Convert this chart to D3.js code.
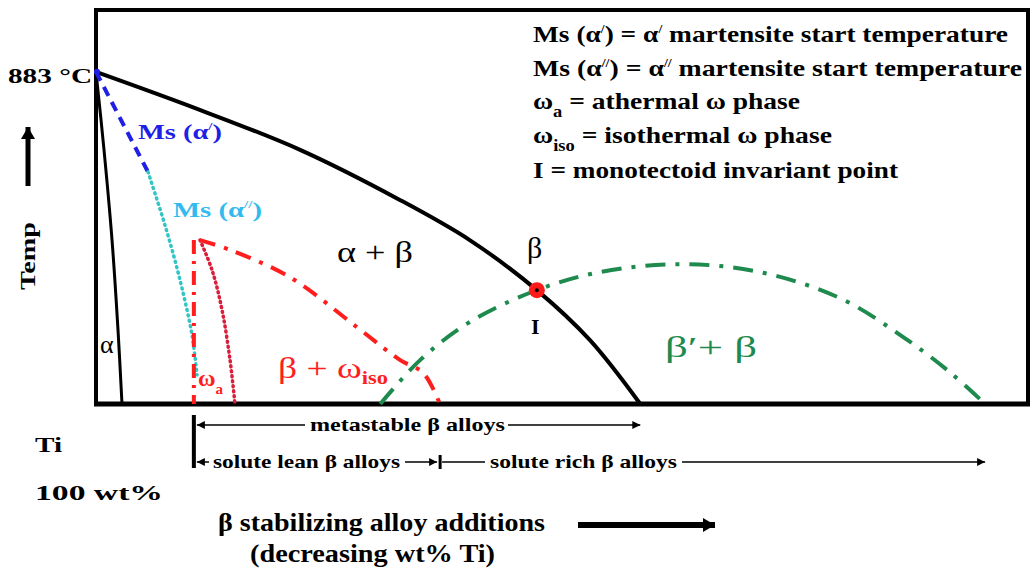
<!DOCTYPE html>
<html>
<head>
<meta charset="utf-8">
<script src="https://cdn.jsdelivr.net/npm/d3@7"></script>
<style>
body{margin:0;background:#fff;}
</style>
</head>
<body>
<svg id="svg" width="1032" height="570"></svg>
<script>
// composition (0..100, left = pure Ti) vs temperature (0..100, schematic)
var betaTransus = [[0,84.3],[11.2,74.6],[21.9,64.5],[32.6,51.8],[40.1,41.6],[47.3,28.9],[53,16.2],[58.4,0]];
var alphaLine = [[0,84.3],[0.86,64.5],[1.72,41.6],[2.36,18.8],[2.79,0]];
var msAlpha1 = [[0,84.3],[5.58,58.9]];
var msAlpha2 = [[5.58,58.9],[7.4,45.4],[9.01,31.5],[10.3,17.5],[10.84,7.4]];
var omegaAthermalLeft = [[10.5,41.6],[10.5,0]];
var omegaAthermalRight = [[11.16,41.6],[12.45,34],[13.52,23.9],[14.38,11.2],[14.91,0]];
var omegaIso = [[11.16,41.6],[14.38,39.1],[20.8,32.2],[28,19.5],[32.6,11.2],[35.1,7.9],[36.9,0]];
var betaPrime = [[30.5,0],[34.8,11.2],[40.1,20.8],[47.3,28.9],[54.1,33.5],[62.7,35.5],[71.2,33.5],[79.8,26.9],[86.3,17.5],[91.6,8.1],[95.4,0]];
var invariantPoint = [47.3,28.9];
var startTemp = [0,84.3];
// alloy class ranges along composition
var alloyStart = 10.5;
var metastableEnd = 58.4;
var leanEnd = 36.6;
var richEnd = 95.4;
var legendLines = ["martensite start temperature","athermal ω phase","isothermal ω phase","monotectoid invariant point"];

var FONT = "'Liberation Serif','DejaVu Serif','Times New Roman',serif";
var svg = d3.select("#svg");
var xs = d3.scaleLinear().domain([0,100]).range([96,1028]);
var ys = d3.scaleLinear().domain([0,100]).range([404,10]);
var line = d3.line().x(function(d){return xs(d[0]);}).y(function(d){return ys(d[1]);}).curve(d3.curveCatmullRom);

var defs = svg.append("defs");
function marker(id, w, h, rev){
  var m = defs.append("marker").attr("id",id).attr("markerUnits","userSpaceOnUse")
    .attr("markerWidth",w).attr("markerHeight",h).attr("refX",rev?0:w).attr("refY",h/2)
    .attr("orient","auto").attr("viewBox","0 0 "+w+" "+h);
  m.append("path").attr("d", rev ? "M"+w+",0L0,"+h/2+"L"+w+","+h+"Z" : "M0,0L"+w+","+h/2+"L0,"+h+"Z").attr("fill","#000");
}
marker("ah",8,8,false);
marker("ahl",8,8,true);
marker("big",12,14,false);

// frame
svg.append("rect").attr("x",xs(0)).attr("y",ys(100)).attr("width",xs(100)-xs(0)).attr("height",ys(0)-ys(100))
  .attr("fill","none").attr("stroke","#000").attr("stroke-width",4);
svg.append("line").attr("x1",xs(0)-2).attr("x2",xs(100)+2).attr("y1",ys(0)).attr("y2",ys(0)).attr("stroke","#000").attr("stroke-width",5);

function curve(data, color, w, dash){
  svg.append("path").attr("d",line(data)).attr("fill","none").attr("stroke",color)
    .attr("stroke-width",w).attr("stroke-dasharray",dash).attr("stroke-linecap", dash && dash.indexOf("1,")===0 ? "round" : "butt");
}
curve(alphaLine,"#000",3,null);
curve(betaTransus,"#000",4,null);
curve(msAlpha1,"#1f1fe6",4,"10,7");
curve(msAlpha2,"#33c4c4",3.5,"1,4.5");
curve(omegaAthermalLeft,"#ff1e1e",4,"14,7,3,7");
curve(omegaAthermalRight,"#d81e3a",3.5,"1,4");
curve(omegaIso,"#ff1e1e",4,"16,9,4,9");
curve(betaPrime,"#1e8a4e",4,"20,10,4,10");

svg.append("circle").attr("cx",xs(invariantPoint[0])).attr("cy",ys(invariantPoint[1])).attr("r",8).attr("fill","#ff1a1a");
svg.append("circle").attr("cx",xs(invariantPoint[0])).attr("cy",ys(invariantPoint[1])).attr("r",2).attr("fill","#000");
svg.append("circle").attr("cx",xs(startTemp[0])+1).attr("cy",ys(startTemp[1])).attr("r",3).attr("fill","#1f1fe6");

function txt(x,y,size,color,weight,len){
  var t = svg.append("text").attr("x",x).attr("y",y).attr("font-family",FONT).attr("font-size",size)
    .attr("fill",color).attr("font-weight",weight||"bold");
  if(len) t.attr("textLength",len).attr("lengthAdjust","spacingAndGlyphs");
  return t;
}

// legend
var t = txt(533,42,24,"#000");
t.append("tspan").text("Ms (α");
t.append("tspan").attr("font-size",12).attr("dy",-9).text("/");
t.append("tspan").attr("dy",9).text(") = α");
t.append("tspan").attr("font-size",12).attr("dy",-9).text("/");
t.append("tspan").attr("dy",9).text(" "+legendLines[0]);
t.attr("textLength",475).attr("lengthAdjust","spacingAndGlyphs");
t = txt(533,76,24,"#000");
t.append("tspan").text("Ms (α");
t.append("tspan").attr("font-size",12).attr("dy",-9).text("//");
t.append("tspan").attr("dy",9).text(") = α");
t.append("tspan").attr("font-size",12).attr("dy",-9).text("//");
t.append("tspan").attr("dy",9).text(" "+legendLines[0]);
t.attr("textLength",489).attr("lengthAdjust","spacingAndGlyphs");
t = txt(533,109,24,"#000",null,267);
t.append("tspan").text("ω");
t.append("tspan").attr("font-size",16).attr("dy",8).text("a");
t.append("tspan").attr("dy",-8).text(" = "+legendLines[1]);
t = txt(533,143,24,"#000",null,299);
t.append("tspan").text("ω");
t.append("tspan").attr("font-size",16).attr("dy",8).text("iso");
t.append("tspan").attr("dy",-8).text(" = "+legendLines[2]);
txt(533,178,24,"#000",null,365).text("I = "+legendLines[3]);

// left labels
txt(8,83,22,"#000",null,84).text("883 °C");
svg.append("line").attr("x1",28).attr("x2",28).attr("y1",186).attr("y2",127).attr("stroke","#000").attr("stroke-width",5).attr("marker-end","url(#big)");
txt(0,0,22,"#000",null,68).attr("transform","translate(35,256) rotate(-90)").attr("text-anchor","middle").text("Temp");

// region labels
t = txt(138,139,21,"#1f1fe6",null,84);
t.append("tspan").text("Ms (α");
t.append("tspan").attr("font-size",11).attr("dy",-9).text("/");
t.append("tspan").attr("dy",9).text(")");
t = txt(173,217,21,"#33bbee",null,89);
t.append("tspan").text("Ms (α");
t.append("tspan").attr("font-size",11).attr("dy",-9).text("//");
t.append("tspan").attr("dy",9).text(")");
txt(337,262,30,"#000","normal",76).text("α + β");
txt(527,258,30,"#000","normal").text("β");
txt(531,334,22,"#000").text("I");
txt(100,353,26,"#000","normal").text("α");
t = txt(198,386,24,"#ff1e1e");
t.append("tspan").text("ω");
t.append("tspan").attr("font-size",15).attr("dy",8).text("a");
t = txt(278,378,30,"#ff1e1e","normal",110);
t.append("tspan").text("β + ω");
t.append("tspan").attr("font-size",18).attr("font-weight","bold").attr("dy",6).text("iso");
txt(665,357,30,"#1e8a4e","normal",92).text("β′+ β");

// alloy ranges
var x0 = xs(alloyStart);
svg.append("line").attr("x1",x0).attr("x2",x0).attr("y1",415).attr("y2",468).attr("stroke","#000").attr("stroke-width",4);
function seg(a,b,y,left,right){
  var l = svg.append("line").attr("x1",a).attr("x2",b).attr("y1",y).attr("y2",y).attr("stroke","#000").attr("stroke-width",1.5);
  if(left) l.attr("marker-start","url(#ahl)");
  if(right) l.attr("marker-end","url(#ah)");
}
seg(x0+3,305,425,true,false);
seg(508,xs(metastableEnd),425,false,true);
txt(310,431,19,"#000",null,195).text("metastable β alloys");
seg(x0+3,209,462,true,false);
txt(213,468,19,"#000",null,187).text("solute lean β alloys");
seg(405,xs(leanEnd),462,false,true);
svg.append("line").attr("x1",xs(leanEnd)+3).attr("x2",xs(leanEnd)+3).attr("y1",455).attr("y2",469).attr("stroke","#000").attr("stroke-width",3);
seg(xs(leanEnd)+5,485,462,false,false);
txt(490,468,19,"#000",null,187).text("solute rich β alloys");
seg(682,xs(richEnd),462,false,true);

txt(35,452,22,"#000",null,27).text("Ti");
txt(35,500,22,"#000",null,128).text("100 wt%");
txt(218,531,25,"#000",null,327).text("β stabilizing alloy additions");
txt(250,562,25,"#000",null,245).text("(decreasing wt% Ti)");
svg.append("line").attr("x1",578).attr("x2",715).attr("y1",525).attr("y2",525).attr("stroke","#000").attr("stroke-width",6).attr("marker-end","url(#big)");
</script>
</body>
</html>
